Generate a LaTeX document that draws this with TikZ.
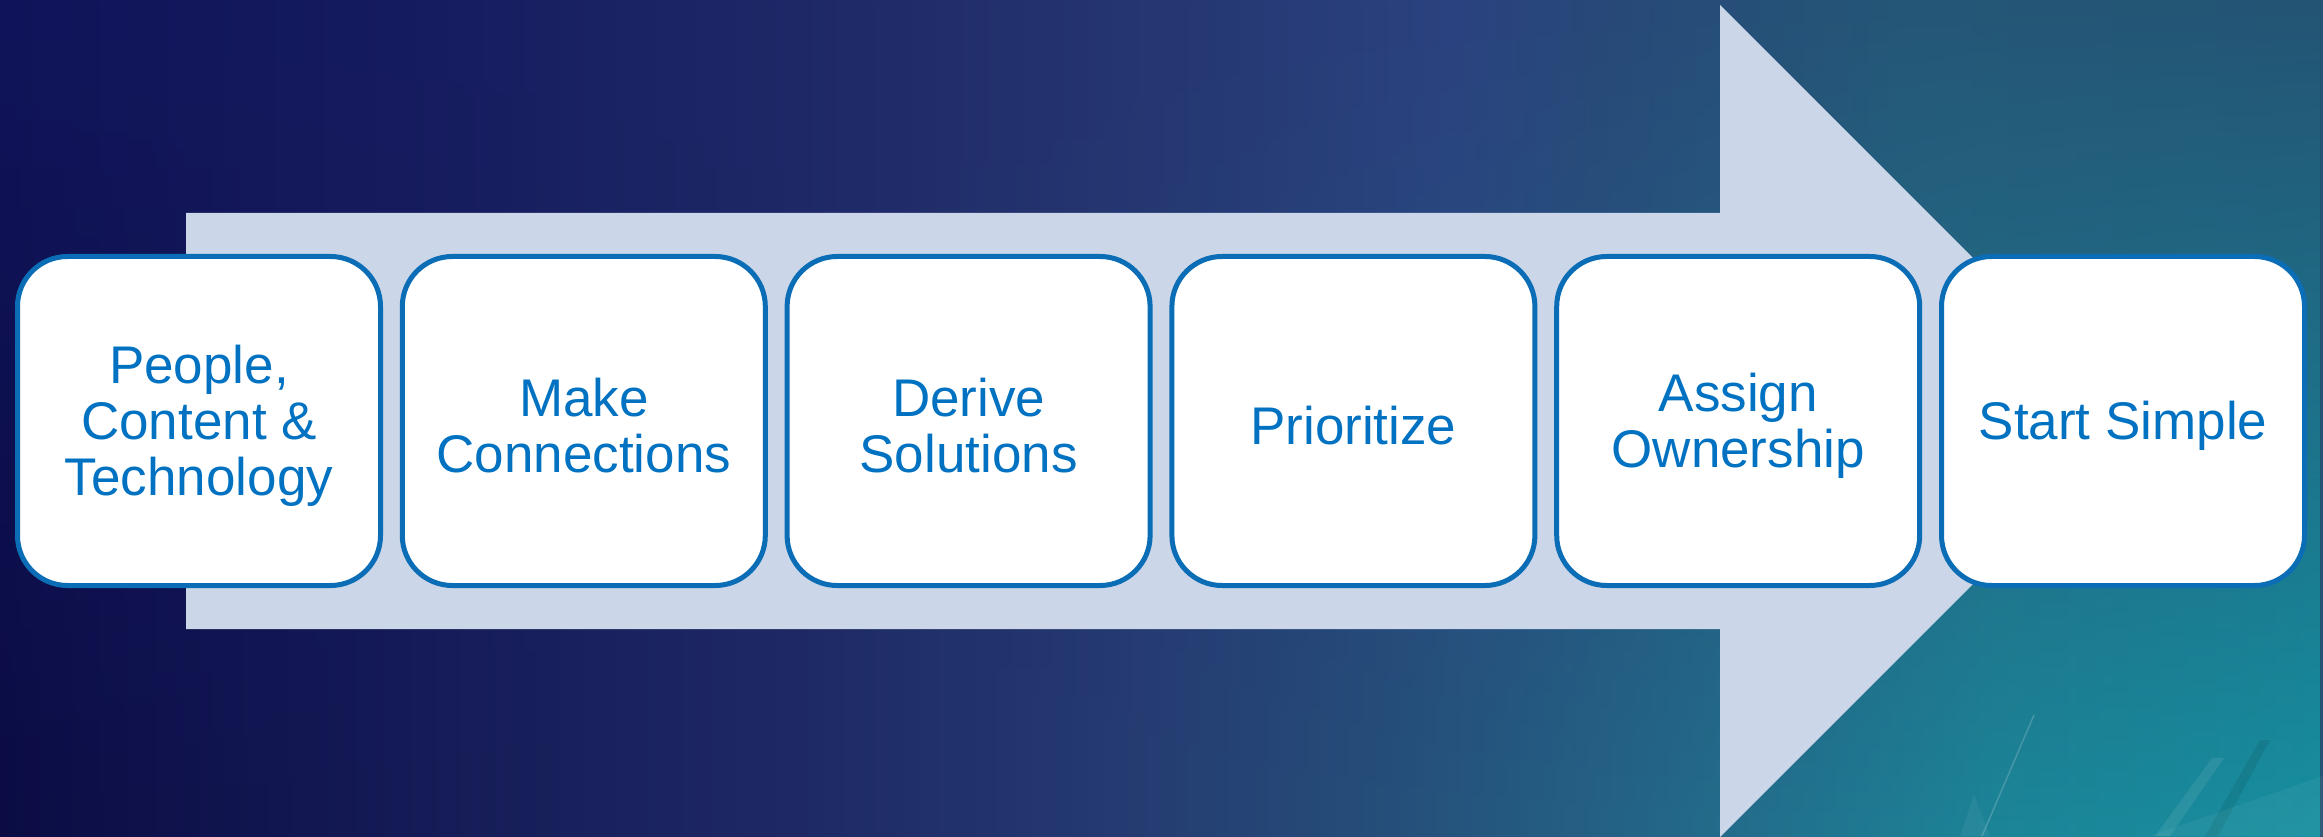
\documentclass[tikz,border=0pt]{standalone}
\usepackage{fontspec}
\setmainfont{Liberation Sans}
\usetikzlibrary{fadings}
\definecolor{arrowfill}{HTML}{CBD6E8}
\definecolor{boxblue}{HTML}{0A6DB5}
\definecolor{textblue}{HTML}{0072C1}
\definecolor{tA}{HTML}{10145A}
\definecolor{tB}{HTML}{161C60}
\definecolor{tC}{HTML}{1E2868}
\definecolor{tD}{HTML}{243470}
\definecolor{tE}{HTML}{2B4280}
\definecolor{tF}{HTML}{284878}
\definecolor{tG}{HTML}{255677}
\definecolor{tH}{HTML}{245474}
\definecolor{bA}{HTML}{0B0C44}
\definecolor{bB}{HTML}{141A55}
\definecolor{bC}{HTML}{1E2A64}
\definecolor{bD}{HTML}{253A70}
\definecolor{bE}{HTML}{25507A}
\definecolor{bF}{HTML}{236A8A}
\definecolor{bG}{HTML}{1C8598}
\definecolor{bH}{HTML}{1690A0}
\pgfdeclarehorizontalshading{bgtop}{100bp}{color(0bp)=(tA); color(25bp)=(tA);
  color(33.6bp)=(tB); color(42.2bp)=(tC); color(48.7bp)=(tD); color(56.2bp)=(tE);
  color(59.4bp)=(tF); color(65.9bp)=(tG); color(75bp)=(tH); color(100bp)=(tH)}
\pgfdeclarehorizontalshading{bgbottom}{100bp}{color(0bp)=(bA); color(25bp)=(bA);
  color(33.6bp)=(bB); color(42.2bp)=(bC); color(48.7bp)=(bD); color(55.1bp)=(bE);
  color(61.6bp)=(bF); color(68bp)=(bG); color(75bp)=(bH); color(100bp)=(bH)}
\tikzfading[name=fadeup, top color=transparent!100, bottom color=transparent!0]
\tikzset{
  stepbox/.style={draw=boxblue, line width=5pt, fill=white, rounded corners=50pt,
    minimum width=363pt, minimum height=329pt, inner sep=0pt},
  steptext/.style={font=\fontsize{53}{56}\selectfont, text=textblue, align=center,
    inner sep=0pt, yshift=-5pt},
  bigarrow/.style={fill=arrowfill, draw=none},
  deco/.style={draw=white, line width=1.5pt, opacity=0.18}
}
\begin{document}
\begin{tikzpicture}[x=1pt,y=1pt]
  \useasboundingbox (0,0) rectangle (2323,836);
  % background
  \shade[shading=bgtop] (0,0) rectangle (2323,836);
  \shade[shading=bgbottom, path fading=fadeup] (0,0) rectangle (2323,836);
  % faint decorations lower right
  \draw[deco] (2034,121) -- (1982,0);
  \fill[white, opacity=0.05] (1974,42) -- (1990,0) -- (1960,0) -- cycle;
  \fill[white, opacity=0.08] (2212,78) -- (2224,78) -- (2170,0) -- (2155,0) -- cycle;
  \fill[black, opacity=0.08] (2260,96) -- (2270,96) -- (2218,0) -- (2205,0) -- cycle;
  \fill[white, opacity=0.05] (2150,0) -- (2323,60) -- (2323,0) -- cycle;
  % big arrow
  \path[bigarrow] (186,623) -- (1720,623) -- (1720,831) -- (2136,415)
    -- (1720,-1) -- (1720,207) -- (186,207) -- cycle;
  % step boxes
  \node[stepbox, label={[steptext]center:{People,\\Content \&\\Technology}}] (n1) at (199,415) {};
  \node[stepbox, label={[steptext]center:{Make\\Connections}}] (n2) at (583.8,415) {};
  \node[stepbox, label={[steptext]center:{Derive\\Solutions}}] (n3) at (968.6,415) {};
  \node[stepbox, label={[steptext]center:{Prioritize}}] (n4) at (1353.4,415) {};
  \node[stepbox, label={[steptext]center:{Assign\\Ownership}}] (n5) at (1738.2,415) {};
  \node[stepbox, label={[steptext]center:{Start Simple}}] (n6) at (2123,415) {};
\end{tikzpicture}
\end{document}
